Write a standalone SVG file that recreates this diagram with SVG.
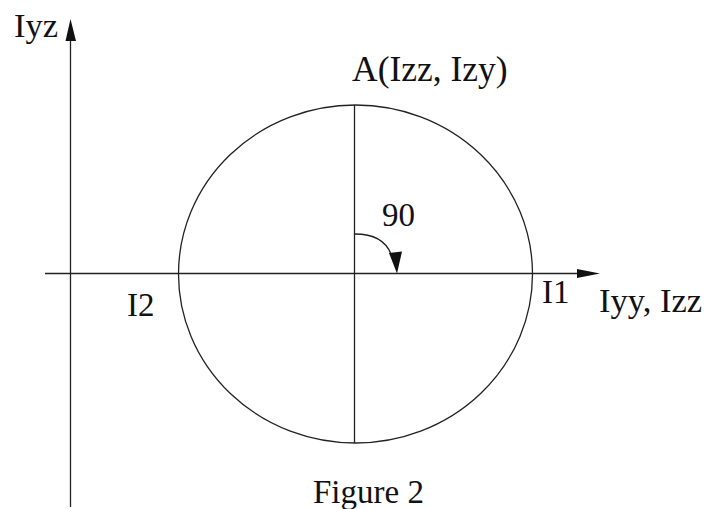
<svg xmlns="http://www.w3.org/2000/svg" width="704" height="509" viewBox="0 0 704 509">
<style>
.ln{fill:none;stroke:#222;stroke-width:1.3}
.ah{fill:#111;stroke:none}
text{font-family:"Liberation Serif","Times New Roman",serif;font-size:33px;fill:#111}
.big{font-size:34.5px}
</style>
<rect width="704" height="509" fill="#fff"/>
<g id="axes">
<line class="ln" x1="70.5" y1="507" x2="70.5" y2="38"/>
<polygon class="ah" points="70.5,19 65.5,41 76,41"/>
<line class="ln" x1="45" y1="273.5" x2="580" y2="273.5"/>
<polygon class="ah" points="600,273.5 577,269 577,278"/>
<text x="14" y="37" class="big">Iyz</text>
<text x="599" y="312" class="big">Iyy, Izz</text>
</g>
<g id="circle">
<ellipse class="ln" cx="355.5" cy="274" rx="177" ry="169"/>
<line class="ln" x1="354.5" y1="105" x2="354.5" y2="443"/>
</g>
<g id="angle">
<path class="ln" d="M355,234 Q383,234 391,254"/>
<polygon class="ah" points="397,273.5 389,253 402,251.5"/>
<text x="382" y="226">90</text>
</g>
<g id="labels">
<text x="352" y="81" style="font-size:35.5px">A(Izz, Izy)</text>
<text x="542" y="303">I1</text>
<text x="127" y="316">I2</text>
<text x="313" y="503">Figure 2</text>
</g>
</svg>
